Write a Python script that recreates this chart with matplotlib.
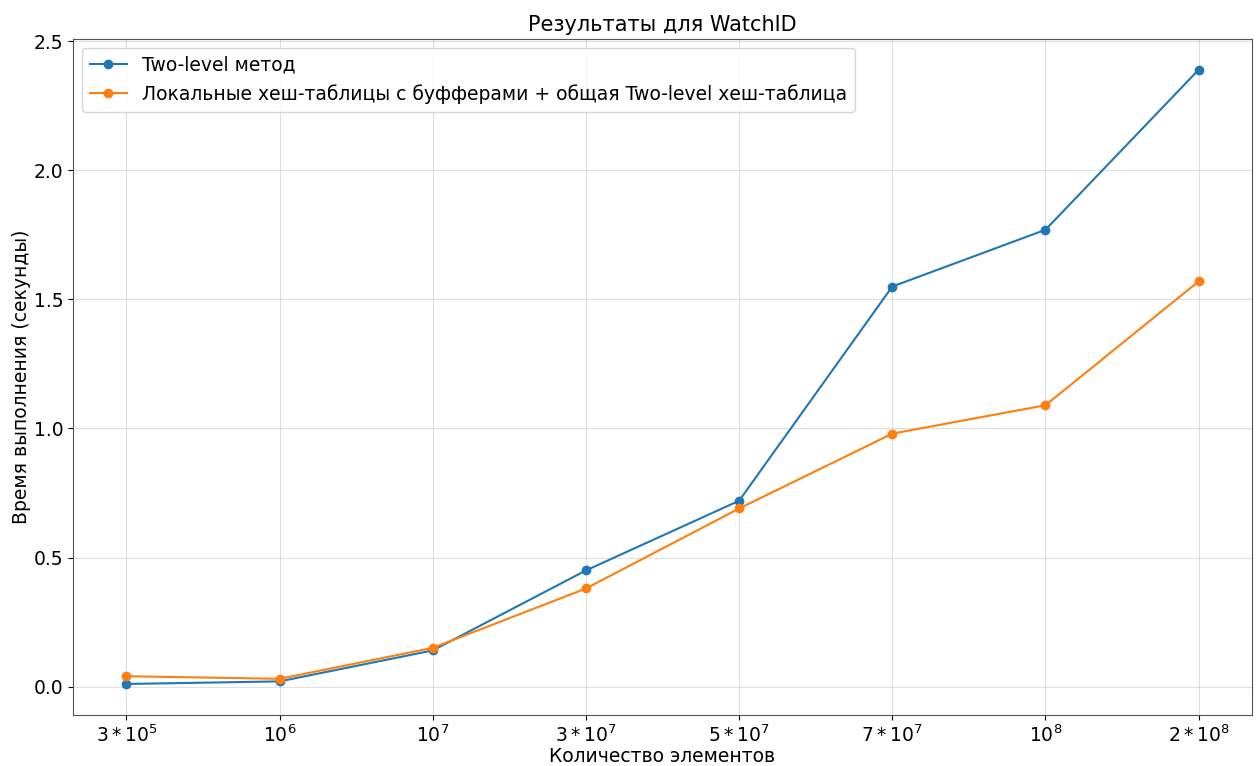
import matplotlib
matplotlib.use("Agg")
import matplotlib.pyplot as plt

# sizes tested and the measured times (seconds)
sizes = ["$3*10^5$", "$10^6$", "$10^7$", "$3*10^7$",
         "$5*10^7$", "$7*10^7$", "$10^8$", "$2*10^8$"]
two_level = [0.01, 0.02, 0.14, 0.45, 0.72, 1.55, 1.77, 2.39]
local_buffers = [0.04, 0.03, 0.15, 0.38, 0.69, 0.98, 1.09, 1.57]

plt.rcParams["font.size"] = 13.5

fig, ax = plt.subplots(figsize=(12.56, 7.66), dpi=100)
x = range(len(sizes))
ax.plot(x, two_level, "o-", label="Two-level метод")
ax.plot(x, local_buffers, "o-",
        label="Локальные хеш-таблицы с буфферами + общая Two-level хеш-таблица")
ax.set_xticks(list(x))
ax.set_xticklabels(sizes)
ax.set_title("Результаты для WatchID", fontsize=15)
ax.set_xlabel("Количество элементов", labelpad=1)
ax.set_ylabel("Время выполнения (секунды)", labelpad=2)
ax.grid(True, alpha=0.4)
ax.legend(loc="upper left")
for s in ax.spines.values():
    s.set_edgecolor("#555555")

fig.subplots_adjust(left=0.058, right=0.997, top=0.949, bottom=0.067)
fig.savefig("out.png")
